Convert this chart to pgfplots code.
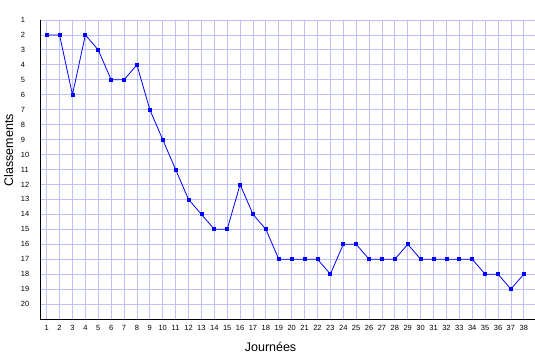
\documentclass[border=0pt]{standalone}
\usepackage{fontspec}
\setmainfont{Liberation Sans}
\usepackage{pgfplots}
\pgfplotsset{compat=1.18}
\definecolor{gridc}{RGB}{192,192,255}
\definecolor{linec}{RGB}{0,0,255}
\begin{document}
\begin{tikzpicture}
\begin{axis}[
  scale only axis,
  anchor=south west,
  at={(0pt,0pt)},
  width=494.75pt, height=299.3pt,
  xmin=0.5, xmax=38.83,
  ymin=1, ymax=21,
  y dir=reverse,
  xtick={1,...,38},
  ytick={1,...,20},
  grid=major,
  major grid style={draw=gridc, line width=0.8pt},
  major tick length=0pt,
  axis line style={draw=none},
  /pgf/number format/assume math mode=true,
  tick label style={font=\fontsize{7.5}{9}\selectfont},
  xticklabel style={anchor=center, inner sep=0pt, yshift=-9.2pt},
  yticklabel style={anchor=west, inner sep=0pt, xshift=-19.5pt},
  xlabel={Journées},
  ylabel={Classements},
  label style={font=\fontsize{12.5}{14}\selectfont},
  xlabel style={at={(axis description cs:0.466,-0.109)}, anchor=base},
  ylabel style={at={(axis description cs:-0.0546,0.564)}, anchor=base, rotate=0},
  clip=false,
]
\addplot[color=linec, line width=0.8pt, mark=square*, mark size=1.5pt, mark options={fill=linec, draw=linec}] coordinates {
(1,2) (2,2) (3,6) (4,2) (5,3) (6,5) (7,5) (8,4) (9,7) (10,9)
(11,11) (12,13) (13,14) (14,15) (15,15) (16,12) (17,14) (18,15) (19,17) (20,17)
(21,17) (22,17) (23,18) (24,16) (25,16) (26,17) (27,17) (28,17) (29,16) (30,17)
(31,17) (32,17) (33,17) (34,17) (35,18) (36,18) (37,19) (38,18)
};
\draw[black, line width=1pt] (axis cs:0.5,1) -- (axis cs:0.5,21) -- (axis cs:38.83,21);
\end{axis}
\path[use as bounding box] (-40.25pt,-40.7pt) rectangle (494.75pt,319.3pt);
\end{tikzpicture}
\end{document}
